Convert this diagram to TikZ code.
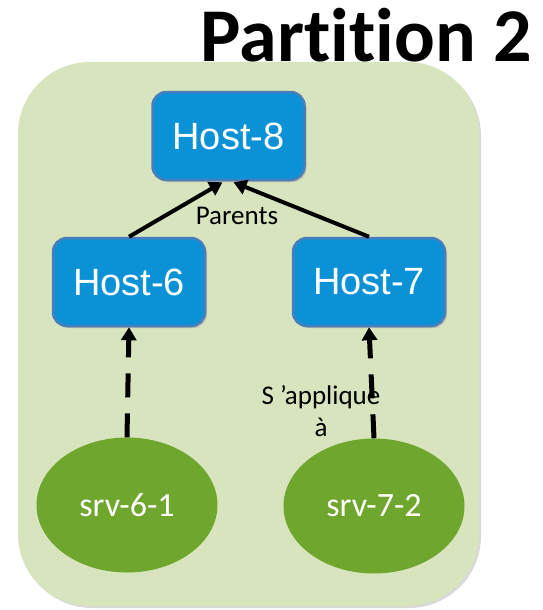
\documentclass[tikz,border=0pt]{standalone}
\usepackage{fontspec}
\setmainfont{Carlito}[Ligatures=NoCommon]
\newfontfamily\arialf{Liberation Sans}
\usetikzlibrary{arrows.meta,shadows,shapes.geometric}
\definecolor{panelgreen}{HTML}{D7E4BD}
\definecolor{hostblue}{HTML}{0A91D6}
\definecolor{hostborder}{HTML}{4A7EBB}
\definecolor{srvgreen}{HTML}{6EA62E}
\tikzset{
  hostbox/.style={draw=hostborder, line width=2.5pt, fill=hostblue, rounded corners=14pt,
    minimum width=152pt, minimum height=88pt, inner sep=0pt, text=white,
    font=\arialf\fontsize{38}{40}\selectfont,
    drop shadow={shadow xshift=2pt, shadow yshift=-2pt, opacity=0.35}},
  srvnode/.style={ellipse, fill=srvgreen, minimum width=181pt, minimum height=135pt,
    inner sep=0pt, text=white, font=\fontsize{34}{36}\selectfont},
  parentarrow/.style={line width=4pt, -{Triangle[length=13pt,width=15pt]}},
  appliesarrow/.style={line width=5pt, dash pattern=on 24pt off 16pt,
    -{Triangle[length=13pt,width=15pt]}},
  lbl/.style={font=\fontsize{27}{32}\selectfont, align=center, inner sep=0pt}
}
\begin{document}
\begin{tikzpicture}[x=1pt,y=-1pt]
\useasboundingbox (0,0) rectangle (542,610);
\fill[panelgreen, rounded corners=72pt,
  drop shadow={shadow xshift=2pt, shadow yshift=-2pt, opacity=0.3}] (18,62) rectangle (479,606);
\node[anchor=base, font=\bfseries\fontsize{76}{80}\selectfont, inner sep=0pt] (title) at (366,62) {Partition 2};
\node[hostbox] (h8) at (228.5,136) {Host-8};
\node[hostbox] (h6) at (129,282) {Host-6};
\node[hostbox] (h7) at (369,282) {Host-7};
\node[srvnode] (s6) at (127,505) {srv-6-1};
\node[srvnode] (s7) at (374,506) {srv-7-2};
\draw[parentarrow] (h6.north) -- ([xshift=-6pt,yshift=-1pt]h8.south);
\draw[parentarrow] (h7.north) -- ([xshift=5pt,yshift=-1pt]h8.south);
\draw[appliesarrow] (s6.north) -- (h6.south);
\draw[appliesarrow] (s7.north) -- (h7.south);
\node[lbl] (parents) at (237,216) {Parents};
\node[lbl] (applies) at (321,411) {S ’applique\\à};
\end{tikzpicture}
\end{document}
